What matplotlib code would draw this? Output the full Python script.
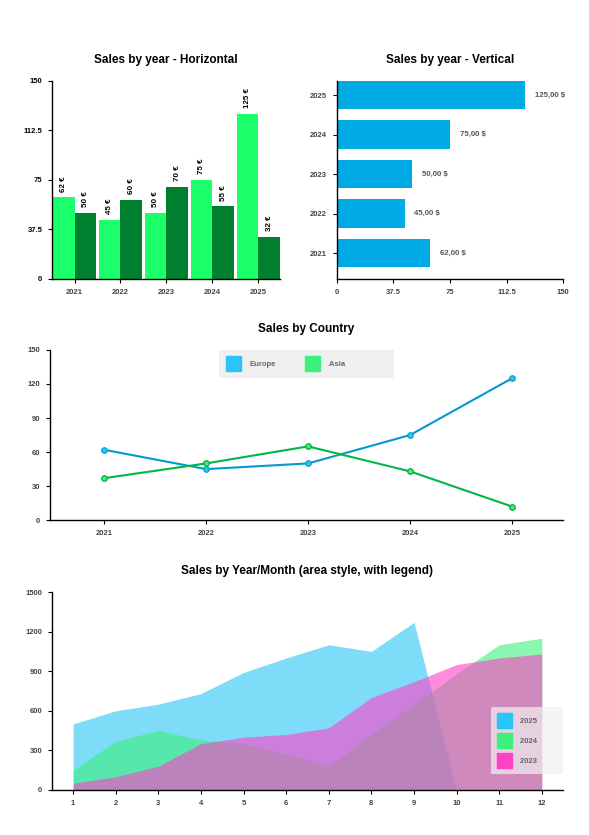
import matplotlib.pyplot as plt
from matplotlib.patches import Patch
import numpy as np

plt.rcParams['font.family'] = ['Liberation Sans', 'DejaVu Sans']
plt.rcParams['font.weight'] = 'bold'

# data
years = ['2021', '2022', '2023', '2024', '2025']
sales_a = [62, 45, 50, 75, 125]
sales_b = [50, 60, 70, 55, 32]
sales_total = [62, 45, 50, 75, 125]

europe = [62, 45, 50, 75, 125]
asia = [37, 50, 65, 43, 12]

months = list(range(1, 13))
s2025 = [500, 600, 650, 730, 890, 1000, 1100, 1050, 1270, 0]
s2024 = [150, 370, 450, 380, 350, 270, 180, 420, 650, 880, 1100, 1150]
s2023 = [50, 100, 180, 350, 400, 420, 470, 700, 820, 950, 1000, 1030]

TICK_COL = '#444444'
TITLE_FS = 8.5
TICK_FS = 5.5


def style_axes(ax):
    for s in ['top', 'right']:
        ax.spines[s].set_visible(False)
    for s in ['left', 'bottom']:
        ax.spines[s].set_linewidth(1.0)
    ax.tick_params(axis='both', labelsize=TICK_FS, colors='black', labelcolor=TICK_COL,
                   length=3, width=0.8, pad=4)
    for lab in ax.get_xticklabels() + ax.get_yticklabels():
        lab.set_fontweight('bold')


def square_legend(ax, handles, **kw):
    leg = ax.legend(handles=handles, fontsize=5.5, handlelength=1.95, handleheight=2.64,
                    handletextpad=1.1, borderpad=0.85, borderaxespad=0, fancybox=True, **kw)
    leg.get_frame().set_facecolor('#F0F0F0')
    leg.get_frame().set_edgecolor('none')
    for t in leg.get_texts():
        t.set_color('#666666')
        t.set_fontweight('bold')
    return leg


fig = plt.figure(figsize=(5.89, 8.35), dpi=100)

# ---- top left: grouped vertical bars
ax1 = fig.add_axes([0.0883, 0.666, 0.387, 0.237])
x = np.arange(len(years))
w = 0.47
b1 = ax1.bar(x - w / 2, sales_a, w, color='#1AFF6A')
b2 = ax1.bar(x + w / 2, sales_b, w, color='#007F2F')
for bars in (b1, b2):
    for r in bars:
        ax1.annotate(f'{int(r.get_height())} €', (r.get_x() + r.get_width() / 2, r.get_height()),
                     xytext=(0, 4), textcoords='offset points', rotation=90,
                     ha='center', va='bottom', fontsize=5.8, fontweight='bold', color='black')
ax1.set_xticks(x)
ax1.set_xticklabels(years)
ax1.set_yticks([0, 37.5, 75, 112.5, 150])
ax1.set_yticklabels(['0', '37.5', '75', '112.5', '150'])
ax1.set_ylim(0, 150)
ax1.set_xlim(-0.49, 4.47)
ax1.set_title('Sales by year - Horizontal', fontsize=TITLE_FS, fontweight='bold', pad=13)
style_axes(ax1)
ax1.tick_params(axis='y', labelcolor='black')

# ---- top right: horizontal bars
ax2 = fig.add_axes([0.572, 0.666, 0.384, 0.237])
y = np.arange(len(years))
bars = ax2.barh(y, sales_total, 0.72, color='#00AAE4')
for r, v in zip(bars, sales_total):
    ax2.annotate(f'{v:.2f} $'.replace('.', ','), (v, r.get_y() + r.get_height() / 2),
                 xytext=(7, 0), textcoords='offset points', ha='left', va='center',
                 fontsize=5.6, fontweight='bold', color='#555555')
ax2.set_yticks(y)
ax2.set_yticklabels(years)
ax2.set_xticks([0, 37.5, 75, 112.5, 150])
ax2.set_xticklabels(['0', '37.5', '75', '112.5', '150'])
ax2.set_xlim(0, 150)
ax2.set_ylim(-0.65, 4.36)
ax2.set_title('Sales by year - Vertical', fontsize=TITLE_FS, fontweight='bold', pad=13)
style_axes(ax2)

# ---- middle: line chart
ax3 = fig.add_axes([0.085, 0.377, 0.871, 0.204])
ax3.plot(x, europe, color='#0399D0', lw=1.5, marker='o', ms=4,
         mfc='#29C5F6', mec='#0399D0', mew=0.8)
ax3.plot(x, asia, color='#00B843', lw=1.5, marker='o', ms=4,
         mfc='#3CF07A', mec='#00A03A', mew=0.8)
ax3.set_xticks(x)
ax3.set_xticklabels(years)
ax3.set_yticks([0, 30, 60, 90, 120, 150])
ax3.set_ylim(0, 150)
ax3.set_xlim(-0.53, 4.5)
ax3.set_title('Sales by Country', fontsize=TITLE_FS, fontweight='bold', pad=13)
style_axes(ax3)
square_legend(ax3, [Patch(color='#29C5F6', label='Europe'),
                    Patch(color='#3CF07A', label='Asia' + ' ' * 20)],
              loc='upper center', bbox_to_anchor=(0.5, 1.0), ncol=2, columnspacing=3.9,
              framealpha=1)

# ---- bottom: area chart
ax4 = fig.add_axes([0.088, 0.054, 0.868, 0.237])
ax4.fill_between(months[:len(s2025)], s2025, color='#29C5F6', alpha=0.6, lw=0)
ax4.fill_between(months, s2024, color='#3CF07A', alpha=0.6, lw=0)
ax4.fill_between(months, s2023, color='#FF40C8', alpha=0.6, lw=0)
ax4.set_xticks(months)
ax4.set_yticks([0, 300, 600, 900, 1200, 1500])
ax4.set_ylim(0, 1500)
ax4.set_xlim(0.5, 12.5)
ax4.set_title('Sales by Year/Month (area style, with legend)', fontsize=TITLE_FS, fontweight='bold', pad=13)
style_axes(ax4)
square_legend(ax4, [Patch(color='#29C5F6', label='2025' + ' ' * 9),
                    Patch(color='#3CF07A', label='2024' + ' ' * 9),
                    Patch(color='#FF40C8', label='2023' + ' ' * 9)],
              loc='center right', bbox_to_anchor=(1.0, 0.25), labelspacing=0.65,
              framealpha=0.7)

fig.savefig('out.png', dpi=100)
